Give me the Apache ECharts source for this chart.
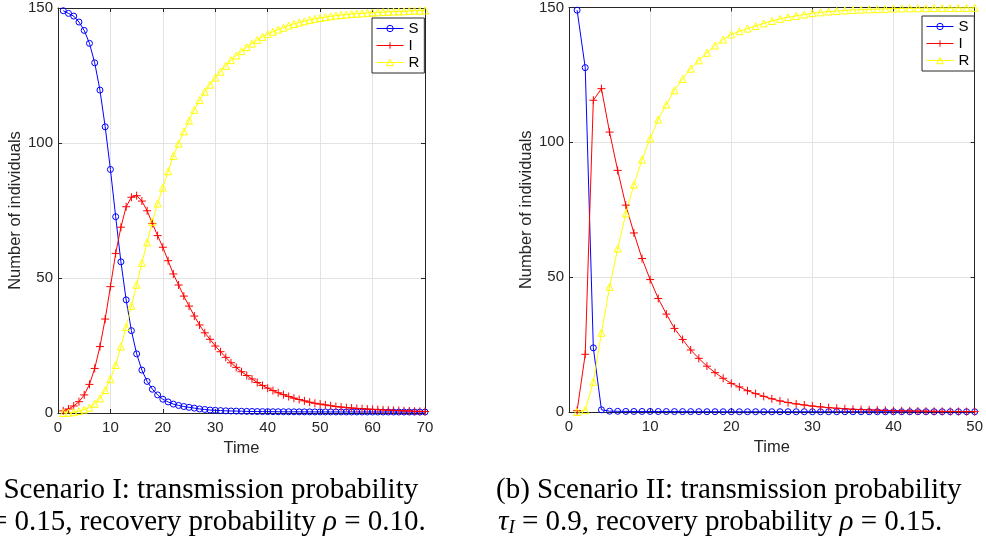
<!DOCTYPE html>
<html>
<head>
<meta charset="utf-8">
<script src="https://cdn.jsdelivr.net/npm/echarts@6/dist/echarts.min.js"></script>
<style>
  html, body { margin: 0; padding: 0; background: #ffffff; }
  #chart { width: 986px; height: 543px; }
</style>
</head>
<body>
<div id="chart"></div>
<script>
// ---------- Scenario I (left panel) ----------
const timeA = [1,2,3,4,5,6,7,8,9,10,11,12,13,14,15,16,17,18,19,20,21,22,23,24,25,26,27,28,29,30,31,32,33,34,35,36,37,38,39,40,41,42,43,44,45,46,47,48,49,50,51,52,53,54,55,56,57,58,59,60,61,62,63,64,65,66,67,68,69,70];
const susA = [149.0,148.0,147.0,144.8,141.7,136.9,129.7,119.6,106.0,90.2,
              72.7,56.0,41.9,30.5,21.9,15.9,11.7,8.8,6.7,5.1,
              4.1,3.3,2.8,2.4,2.1,1.8,1.5,1.3,1.1,1.0,
              0.9,0.8,0.75,0.7,0.65,0.6,0.57,0.54,0.52,0.5,
              0.48,0.47,0.46,0.45,0.44,0.43,0.42,0.42,0.41,0.41,
              0.40,0.40,0.39,0.39,0.39,0.38,0.38,0.38,0.38,0.37,
              0.37,0.37,0.37,0.37,0.36,0.36,0.36,0.36,0.36,0.36];
const infA = [0.8,1.5,2.6,4.2,6.7,10.6,16.5,24.6,34.8,46.8,
              59.1,68.8,76.4,79.9,80.5,78.5,74.9,70.2,65.7,61.4,
              56.4,51.5,47.4,43.3,39.6,35.9,32.6,29.7,27.3,24.8,
              22.7,20.6,18.6,16.9,15.3,13.9,12.6,11.3,10.2,9.2,
              8.3,7.5,6.8,6.1,5.5,5.0,4.5,4.0,3.6,3.3,
              3.0,2.7,2.4,2.2,2.0,1.85,1.7,1.6,1.45,1.35,
              1.25,1.15,1.05,0.95,0.9,0.8,0.75,0.65,0.6,0.55];
const recA = [0.0,0.1,0.3,0.7,1.3,2.0,3.4,5.4,8.5,12.5,
              17.8,24.6,31.8,39.7,47.5,55.6,63.2,70.8,77.6,83.5,
              89.5,95.2,99.8,104.3,108.3,112.3,115.9,119.0,121.6,124.2,
              126.4,128.6,130.7,132.4,134.0,135.5,136.8,138.2,139.3,140.3,
              141.2,142.0,142.7,143.5,144.1,144.6,145.1,145.6,146.0,146.3,
              146.6,146.9,147.2,147.4,147.6,147.8,147.9,148.0,148.2,148.3,
              148.4,148.5,148.6,148.7,148.7,148.8,148.9,149.0,149.0,149.1];

// ---------- Scenario II (right panel) ----------
const timeB = [1,2,3,4,5,6,7,8,9,10,11,12,13,14,15,16,17,18,19,20,21,22,23,24,25,26,27,28,29,30,31,32,33,34,35,36,37,38,39,40,41,42,43,44,45,46,47,48,49,50];
const susB = [149.0,127.7,23.8,0.8,0.3,0.25,0.22,0.2,0.2,0.2,
              0.18,0.17,0.16,0.15,0.14,0.13,0.12,0.12,0.11,0.11,
              0.1,0.1,0.1,0.1,0.1,0.1,0.1,0.1,0.1,0.1,
              0.1,0.1,0.1,0.1,0.1,0.1,0.1,0.1,0.1,0.1,
              0.1,0.1,0.1,0.1,0.1,0.1,0.1,0.1,0.1,0.1];
const infB = [0.5,21.4,115.6,119.9,103.8,89.6,76.7,66.4,56.9,49.1,
              42.1,36.3,31.0,26.9,23.0,19.9,17.0,14.6,12.5,10.6,
              9.3,7.9,6.8,5.8,4.9,4.1,3.5,3.0,2.6,2.2,
              1.9,1.6,1.4,1.2,1.0,0.9,0.8,0.7,0.6,0.5,
              0.45,0.4,0.35,0.3,0.26,0.23,0.2,0.18,0.15,0.13];
const recB = [0.0,0.7,11.2,29.4,46.4,60.6,73.6,84.3,93.6,101.4,
              108.5,114.0,119.3,123.5,127.3,130.4,133.2,135.9,138.1,140.0,
              141.2,142.2,143.1,144.1,145.0,145.8,146.4,146.9,147.4,147.9,
              148.2,148.5,148.7,148.9,149.1,149.2,149.3,149.4,149.5,149.6,
              149.65,149.7,149.72,149.75,149.78,149.8,149.82,149.84,149.86,149.88];

// ---------- tick labels / text ----------
const seriesNames = ['S', 'I', 'R'];
const yTicks = { min: 0, max: 150, step: 50 };
const xTicksA = { min: 0, max: 70, step: 10 };
const xTicksB = { min: 0, max: 50, step: 10 };
const xTitle = 'Time';
const yTitle = 'Number of individuals';
const captionA = ['(a) Scenario I: transmission probability', '{it|τ}{sub|I} = 0.15, recovery probability {it|ρ} = 0.10.'];
const captionB = ['(b) Scenario II: transmission probability', '{it|τ}{sub|I} = 0.9, recovery probability {it|ρ} = 0.15.'];

// ---------- styling ----------
const AX = '#262626';
const GRIDC = '#e3e3e3';
const SANS = '"Liberation Sans", Arial, Helvetica, sans-serif';
const SERIF = '"Liberation Serif", "Times New Roman", serif';
const CAPSIZE = 29;
const colors = { S: '#0000ff', I: '#ff0000', R: '#ffff00' };
const symbols = {
  S: { symbol: 'circle', size: 6 },
  I: { symbol: 'path://M0,5L10,5M5,0L5,10', size: 8 },
  R: { symbol: 'triangle', size: 7 }
};

function zip(t, v) { return t.map((x, i) => [x, v[i]]); }

function mkSeries(name, t, v, idx) {
  return {
    name: name, type: 'line', xAxisIndex: idx, yAxisIndex: idx,
    data: zip(t, v),
    symbol: symbols[name].symbol, symbolSize: symbols[name].size,
    showSymbol: true,
    lineStyle: { color: colors[name], width: 1 },
    itemStyle: { color: 'rgba(255,255,255,0)', borderColor: colors[name], borderWidth: 1 },
    emphasis: { disabled: true },
    animation: false
  };
}

function mainX(idx, tk) {
  return {
    gridIndex: idx, type: 'value', min: tk.min, max: tk.max, interval: tk.step,
    axisLine: { onZero: false, lineStyle: { color: AX, width: 1 } },
    axisTick: { inside: true, length: 4, lineStyle: { color: AX } },
    axisLabel: { color: AX, fontSize: 15, fontFamily: SANS, margin: 7 },
    splitLine: { show: true, lineStyle: { color: GRIDC, width: 1 } },
    name: xTitle, nameLocation: 'middle', nameGap: 27,
    nameTextStyle: { color: AX, fontSize: 16.5, fontFamily: SANS }
  };
}
function topX(idx, tk) {
  return {
    gridIndex: idx, type: 'value', position: 'top', min: tk.min, max: tk.max, interval: tk.step,
    axisLine: { onZero: false, lineStyle: { color: AX, width: 1 } },
    axisTick: { inside: true, length: 4, lineStyle: { color: AX } },
    axisLabel: { show: false }, splitLine: { show: false }
  };
}
function mainY(idx) {
  return {
    gridIndex: idx, type: 'value', min: yTicks.min, max: yTicks.max, interval: yTicks.step,
    axisLine: { show: true, onZero: false, lineStyle: { color: AX, width: 1 } },
    axisTick: { show: true, inside: true, length: 4, lineStyle: { color: AX } },
    axisLabel: { color: AX, fontSize: 15, fontFamily: SANS, margin: 5 },
    splitLine: { show: true, lineStyle: { color: GRIDC, width: 1 } },
    name: yTitle, nameLocation: 'middle', nameGap: 34, nameRotate: 90,
    nameTextStyle: { color: AX, fontSize: 16.5, fontFamily: SANS }
  };
}
function rightY(idx) {
  return {
    gridIndex: idx, type: 'value', position: 'right', min: yTicks.min, max: yTicks.max, interval: yTicks.step,
    axisLine: { show: true, onZero: false, lineStyle: { color: AX, width: 1 } },
    axisTick: { show: true, inside: true, length: 4, lineStyle: { color: AX } },
    axisLabel: { show: false }, splitLine: { show: false }
  };
}

function mkLegend(left, top) {
  return {
    data: seriesNames, orient: 'vertical', left: left, top: top,
    itemWidth: 27, itemHeight: 8, itemGap: 2,
    padding: [3, 5, 3, 4],
    borderColor: AX, borderWidth: 1, backgroundColor: '#ffffff',
    lineStyle: { width: 1 },
    itemStyle: { borderWidth: 1 },
    textStyle: { color: '#000', fontSize: 15, fontFamily: SANS, lineHeight: 14 },
    selectedMode: false, z: 10
  };
}

const richCap = {
  it: { fontStyle: 'italic', fontSize: CAPSIZE, fontFamily: SERIF, fill: '#000' },
  sub: { fontStyle: 'italic', fontSize: 19, fontFamily: SERIF, fill: '#000', verticalAlign: 'bottom', padding: [12, 0, 0, 0] }
};
function capText(x, y, text) {
  return {
    type: 'text', x: x, y: y, silent: true,
    style: { text: text, fill: '#000', font: CAPSIZE + 'px ' + SERIF, rich: richCap, textVerticalAlign: 'middle' }
  };
}

const chart = echarts.init(document.getElementById('chart'), null, { renderer: 'canvas' });
chart.setOption({
  animation: false,
  backgroundColor: '#ffffff',
  grid: [
    { left: 58, top: 8, width: 367, height: 405, containLabel: false },
    { left: 569, top: 7, width: 407, height: 405, containLabel: false }
  ],
  xAxis: [mainX(0, xTicksA), mainX(1, xTicksB), topX(0, xTicksA), topX(1, xTicksB)],
  yAxis: [mainY(0), mainY(1), rightY(0), rightY(1)],
  legend: [mkLegend(372, 18), mkLegend(922, 16)],
  series: [
    mkSeries('S', timeA, susA, 0), mkSeries('I', timeA, infA, 0), mkSeries('R', timeA, recA, 0),
    mkSeries('S', timeB, susB, 1), mkSeries('I', timeB, infB, 1), mkSeries('R', timeB, recB, 1)
  ],
  graphic: [
    capText(-36, 490, captionA[0]), capText(-33, 522, captionA[1]),
    capText(496, 490, captionB[0]), capText(498, 522, captionB[1])
  ]
});
</script>
</body>
</html>
